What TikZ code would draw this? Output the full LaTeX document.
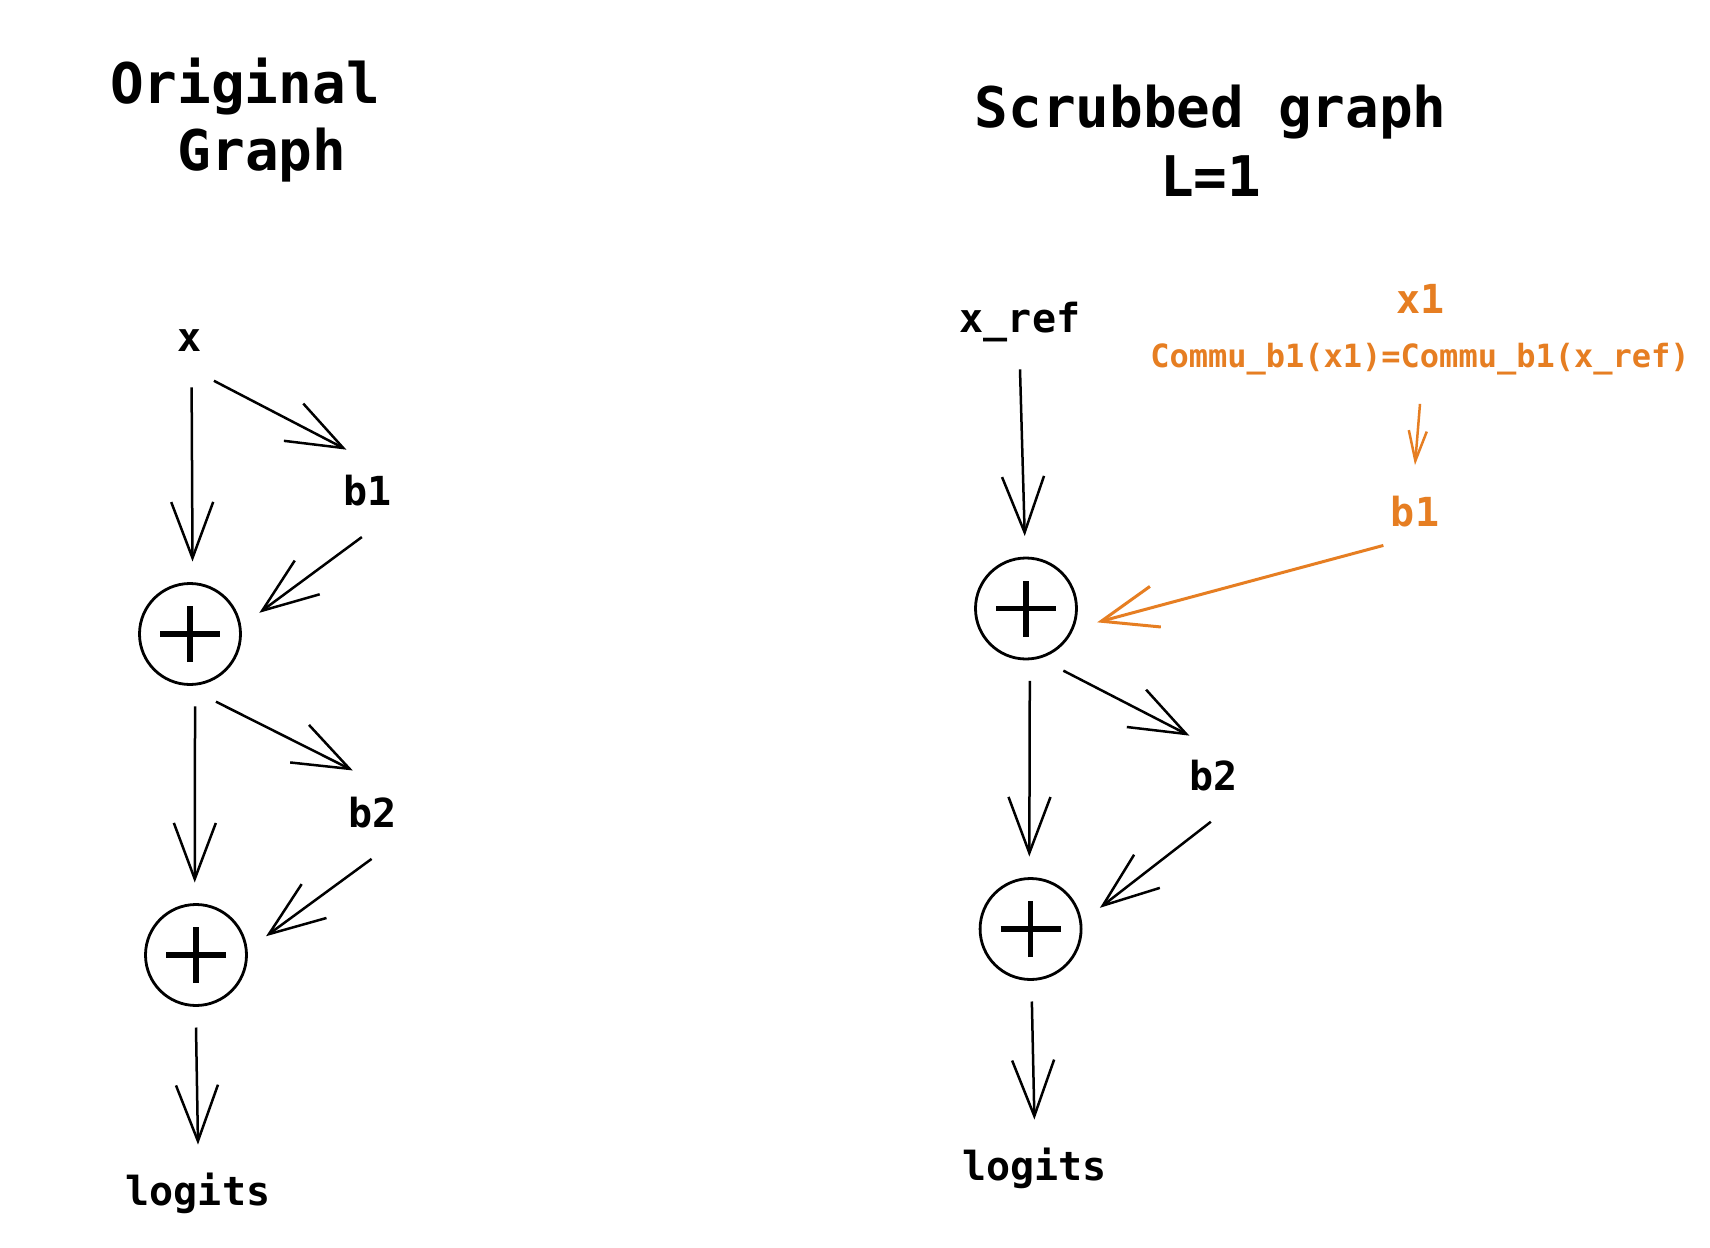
\documentclass[tikz,border=0pt]{standalone}
\usepackage{fontspec}
\setmainfont{DejaVu Sans Mono}
\usetikzlibrary{arrows.meta}
\definecolor{orng}{RGB}{230,126,34}
\begin{document}
\begin{tikzpicture}[x=0.5pt,y=-0.5pt,
  lbl/.style={circle, inner sep=0pt, minimum size=46pt, font=\fontsize{20pt}{24pt}\selectfont\bfseries},
  wide/.style={rectangle, inner sep=0pt, minimum height=48pt, font=\fontsize{20pt}{24pt}\selectfont\bfseries},
  ttl/.style={anchor=base, font=\fontsize{28pt}{34pt}\selectfont\bfseries},
  plusnode/.style={circle, draw, line width=1.4pt, minimum size=50.5pt, outer sep=11pt,
    path picture={\draw[line width=2.8pt]
      ([xshift=-15pt]path picture bounding box.center) -- ([xshift=15pt]path picture bounding box.center)
      ([yshift=-14pt]path picture bounding box.center) -- ([yshift=14pt]path picture bounding box.center);}},
  arr/.style={-{Straight Barb[length=28pt,width=21pt]}, line width=1.25pt},
  arrsmall/.style={-{Straight Barb[length=15pt,width=9pt]}, line width=1.25pt}]
\fill[white] (0,0) rectangle (1710,1248);
\useasboundingbox (0,0) rectangle (1710,1248);

% left graph
\node[ttl] (tOrig) at (245,103) {Original};
\node[ttl] (tGraph) at (262,170) {Graph};
\node[lbl] (x) at (190,341) {x};
\node[lbl] (b1) at (367.5,491) {b1};
\node[plusnode] (c1) at (190,634) {};
\node[lbl] (b2) at (372.4,812.5) {b2};
\node[plusnode] (c2) at (196,955) {};
\node[wide] (lg) at (198,1193) {logits};

\draw[arr] (x.-88) -- (c1.88);
\draw[arr] (x.-59) -- (b1.117);
\draw[arr] (b1.-97) -- (c1.17);
\draw[arr] (c1.-86) -- (c2.91);
\draw[arr] (c1.-69) -- (b2.115);
\draw[arr] (b2.-91) -- (c2.15);
\draw[arr] (c2.-90) -- (lg.north);

% right graph
\node[ttl] (tScr) at (1210.6,127.5) {Scrubbed graph};
\node[ttl] (tL) at (1210.6,196) {L=1};
\node[wide, minimum height=47pt] (xref) at (1020,322) {x\_ref};
\node[lbl, text=orng] (x1) at (1420.5,299) {x1};
\node[rectangle, inner sep=0pt, minimum height=44.7pt, text=orng,
      font=\fontsize{16pt}{19pt}\selectfont\bfseries] (commu) at (1420,358.8) {Commu\_b1(x1)=Commu\_b1(x\_ref)};
\node[lbl, text=orng] (b1R) at (1415,511.5) {b1};
\node[plusnode] (c1R) at (1026,608.5) {};
\node[lbl] (b2R) at (1213.3,775.4) {b2};
\node[plusnode] (c2R) at (1030.6,929) {};
\node[wide] (lgR) at (1034.4,1168) {logits};

\draw[arr] (xref.south) -- (c1R.91);
\draw[arr, orng, line width=1.5pt] (b1R.-133) -- (c1R.-11);
\draw[arrsmall, orng] (commu.south) -- (b1R.north);
\draw[arr] (c1R.-87) -- (c2R.91);
\draw[arr] (c1R.-59) -- (b2R.121);
\draw[arr] (b2R.-93) -- (c2R.17);
\draw[arr] (c2R.-89) -- (lgR.north);
\end{tikzpicture}
\end{document}
